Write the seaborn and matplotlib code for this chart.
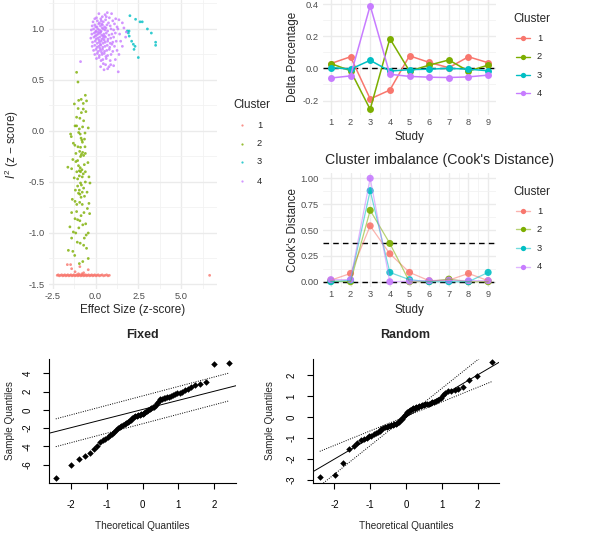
import matplotlib
matplotlib.use("Agg")
import matplotlib.pyplot as plt
from matplotlib.lines import Line2D
import seaborn as sns
import pandas as pd
import numpy as np
from statistics import NormalDist

# ---- data ----
clusters = ["1", "2", "3", "4"]
palette = ["#F8766D", "#7CAE00", "#00BFC4", "#C77CFF"]

# scatter: (effect size z, I^2 z) per cluster
c1_points = [(-2.24, -1.415), (-2.18, -1.41), (-2.12, -1.42), (-2.05, -1.415), (-1.98, -1.41),
             (-1.92, -1.42), (-1.86, -1.415), (-1.80, -1.41), (-1.74, -1.42), (-1.68, -1.415),
             (-1.62, -1.41), (-1.56, -1.42), (-1.50, -1.415), (-1.44, -1.41), (-1.38, -1.42),
             (-1.32, -1.415), (-1.27, -1.41), (-1.21, -1.42), (-1.15, -1.415), (-1.10, -1.41),
             (-1.04, -1.42), (-0.98, -1.415), (-0.93, -1.41), (-0.87, -1.42), (-0.81, -1.415),
             (-0.76, -1.41), (-0.70, -1.42), (-0.64, -1.415), (-0.58, -1.41), (-0.53, -1.42),
             (-0.47, -1.415), (-0.41, -1.41), (-0.35, -1.42), (-0.29, -1.415), (-0.23, -1.41),
             (-0.17, -1.42), (-0.11, -1.415), (-0.05, -1.41), (0.02, -1.42), (0.08, -1.415),
             (0.15, -1.41), (0.22, -1.42), (0.30, -1.415), (0.38, -1.41), (0.46, -1.42),
             (0.55, -1.415), (0.64, -1.41), (0.72, -1.42), (0.80, -1.415), (6.65, -1.415),
             (-1.65, -1.31), (-1.46, -1.31), (-1.40, -1.35), (-0.92, -1.33), (-0.43, -1.36),
             (-1.20, -1.38), (-0.70, -1.39), (-1.00, -1.40), (-0.80, -1.40)]
c2_points = [(-1.11, 0.575), (-1.03, 0.48), (-0.60, 0.35), (-1.24, 0.265), (-0.53, 0.295),
             (-0.99, 0.30), (-0.72, 0.215), (-0.57, 0.19), (-0.83, 0.18), (-1.11, 0.135),
             (-0.92, 0.125), (-1.11, 0.05), (-0.76, 0.04), (-0.43, 0.03), (-1.46, -0.03),
             (-0.99, -0.015), (-1.42, -0.055), (-0.90, -0.03), (-0.85, -0.07), (-0.80, -0.09),
             (-0.65, -0.08), (-0.77, -0.11), (-1.21, -0.14), (-1.03, -0.155), (-0.62, -0.155),
             (-0.93, -0.20), (-0.76, -0.21), (-0.83, -0.23), (-0.70, -0.24), (-0.88, -0.25),
             (-0.60, -0.22), (-1.33, -0.28), (-1.15, -0.30), (-1.05, -0.29), (-0.45, -0.31),
             (-1.62, -0.355), (-1.40, -0.37), (-1.00, -0.34), (-0.90, -0.36), (-0.80, -0.38),
             (-1.10, -0.40), (-0.95, -0.39), (-0.88, -0.40), (-0.72, -0.42), (-0.95, -0.44),
             (-0.78, -0.45), (-1.05, -0.47), (-0.39, -0.45), (-0.33, -0.51), (-0.88, -0.51),
             (-1.05, -0.54), (-0.83, -0.53), (-0.95, -0.58), (-0.78, -0.60), (-0.92, -0.62),
             (-1.36, -0.67), (-1.20, -0.69), (-0.93, -0.70), (-0.78, -0.72), (-0.39, -0.71),
             (-1.40, -0.80), (-1.11, -0.79), (-0.35, -0.81), (-0.48, -0.76), (-1.05, -0.87),
             (-0.92, -0.88), (-1.20, -0.86), (-0.58, -0.91), (-1.50, -0.94), (-1.30, -0.99),
             (-1.16, -1.00), (-0.43, -1.00), (-0.55, -1.02), (-1.40, -1.05), (-1.07, -1.09),
             (-1.59, -1.17), (-1.33, -1.18), (-0.53, -1.15), (-0.43, -1.25), (-0.70, -1.12),
             (-0.95, 0.02), (-0.70, 0.10), (-1.02, 0.22), (-0.88, -0.16), (-1.15, -0.22),
             (-0.66, -0.33), (-1.25, -0.46), (-0.60, -0.50), (-0.70, -0.56), (-1.00, -0.61),
             (-0.85, -0.65), (-0.65, -0.64), (-1.10, -0.72), (-0.68, -0.80), (-0.85, -0.83),
             (-0.75, -0.92), (-0.98, -0.95), (-0.66, -1.05), (-0.90, -1.10), (-1.22, -1.22),
             (-0.75, -1.28), (-0.95, -1.30), (-0.60, -0.40), (-1.18, -0.58), (-0.50, -0.60),
             (-0.72, 0.27), (-0.84, 0.31), (-1.20, 0.05), (-0.62, -0.02), (-1.30, -0.12)]
c3_points = [(2.00, 1.13), (2.33, 1.095), (2.59, 1.07), (2.72, 1.07), (3.02, 1.00),
             (3.25, 0.96), (3.50, 0.87), (3.50, 0.84), (1.85, 0.98), (1.91, 0.96),
             (1.96, 0.93), (2.10, 0.88), (2.20, 0.85), (2.30, 0.83), (2.24, 0.80),
             (2.49, 0.72), (1.95, 0.98)]
c4_points = [(0.19, 1.15), (0.68, 1.16), (0.93, 1.15), (0.55, 1.14),
             (0.05, 1.11), (0.39, 1.12), (0.30, 1.10), (0.80, 1.11), (1.17, 1.10), (0.62, 1.12), (-0.05, 1.10),
             (-0.15, 1.07), (0.10, 1.08), (0.22, 1.06), (0.45, 1.07), (0.58, 1.09), (0.75, 1.06),
             (1.00, 1.08), (1.36, 1.09), (0.33, 1.08), (1.56, 1.06),
             (-0.20, 1.03), (-0.05, 1.04), (0.08, 1.02), (0.18, 1.05), (0.28, 1.03), (0.40, 1.04),
             (0.52, 1.02), (0.66, 1.04), (0.85, 1.03), (1.10, 1.05), (1.25, 1.02), (0.00, 1.02),
             (0.35, 1.05), (1.65, 1.01),
             (-0.25, 0.99), (-0.12, 1.00), (0.02, 0.98), (0.12, 1.00), (0.22, 0.99), (0.32, 0.98),
             (0.45, 1.00), (0.55, 0.99), (0.70, 0.98), (0.90, 1.00), (1.05, 0.99), (1.30, 1.00),
             (1.79, 0.97), (0.15, 0.97), (0.60, 1.01), (0.38, 1.01),
             (-0.22, 0.95), (-0.08, 0.96), (0.05, 0.94), (0.15, 0.95), (0.25, 0.96), (0.35, 0.94),
             (0.48, 0.95), (0.62, 0.96), (0.78, 0.94), (0.95, 0.95), (1.15, 0.96), (1.75, 0.92),
             (0.00, 0.97), (0.30, 0.97), (0.52, 0.93), (1.40, 0.95),
             (-0.28, 0.91), (-0.10, 0.92), (0.03, 0.90), (0.13, 0.91), (0.24, 0.92), (0.36, 0.90),
             (0.46, 0.91), (0.58, 0.92), (0.72, 0.90), (0.88, 0.91), (1.05, 0.92), (1.46, 0.88),
             (0.20, 0.89), (0.42, 0.93), (-0.02, 0.93),
             (-0.18, 0.87), (-0.03, 0.88), (0.10, 0.86), (0.22, 0.87), (0.33, 0.88), (0.44, 0.86),
             (0.56, 0.87), (0.70, 0.88), (0.85, 0.86), (1.00, 0.87), (1.20, 0.88), (0.28, 0.85), (0.50, 0.89),
             (-0.20, 0.83), (-0.05, 0.84), (0.08, 0.82), (0.18, 0.83), (0.30, 0.84), (0.42, 0.82),
             (0.55, 0.83), (0.68, 0.84), (0.82, 0.82), (1.10, 0.83), (1.56, 0.83), (0.25, 0.81), (0.95, 0.85),
             (-0.12, 0.79), (0.02, 0.80), (0.15, 0.78), (0.28, 0.79), (0.40, 0.80), (0.52, 0.78),
             (0.65, 0.79), (0.80, 0.80), (1.00, 0.78), (1.25, 0.79), (0.35, 0.77),
             (-0.05, 0.75), (0.10, 0.76), (0.22, 0.74), (0.38, 0.75), (0.50, 0.76), (0.70, 0.74),
             (0.90, 0.75), (1.36, 0.75), (0.60, 0.73),
             (0.05, 0.71), (0.20, 0.72), (0.42, 0.70), (0.62, 0.71), (0.85, 0.69), (1.15, 0.70), (0.32, 0.69),
             (0.29, 0.63), (0.58, 0.65), (0.78, 0.63), (0.88, 0.65), (0.45, 0.66), (1.05, 0.64), (-0.88, 0.68),
             (0.49, 0.60), (1.32, 0.58), (0.70, 0.61)]

studies = [1, 2, 3, 4, 5, 6, 7, 8, 9]
delta_c1 = [0.030, 0.072, -0.190, -0.135, 0.078, 0.037, 0.004, 0.072, 0.035]
delta_c2 = [0.030, -0.015, -0.255, 0.185, -0.017, 0.020, 0.052, -0.017, 0.020]
delta_c3 = [0.005, -0.005, 0.050, -0.017, -0.008, -0.005, 0.000, -0.005, -0.015]
delta_c4 = [-0.060, -0.047, 0.390, -0.037, -0.050, -0.055, -0.057, -0.053, -0.042]

cook_c1 = [0.015, 0.08, 0.54, 0.27, 0.09, 0.01, 0.015, 0.08, 0.01]
cook_c2 = [0.005, 0.0, 0.69, 0.37, 0.0, 0.002, 0.025, 0.0, 0.0]
cook_c3 = [0.0, 0.015, 0.88, 0.09, 0.02, 0.0, 0.0, 0.0, 0.09]
cook_c4 = [0.02, 0.02, 1.00, 0.0, 0.005, 0.01, 0.015, 0.01, 0.01]
cook_cutoff = 0.375

# sorted residuals for the two QQ plots
fixed_sample = [-7.4, -6.07, -5.4, -5.0, -4.7, -4.3, -3.95, -3.55, -3.35, -3.15,
                -2.95, -2.75, -2.6, -2.45, -2.15, -1.95, -1.85, -1.75, -1.62, -1.55,
                -1.4, -1.3, -1.2, -1.1, -0.9, -0.75, -0.68, -0.62, -0.58, -0.55,
                -0.5, -0.4, -0.3, -0.22, -0.15, -0.05, 0.08, 0.2, 0.28, 0.36,
                0.5, 0.7, 0.95, 1.15, 1.22, 1.27, 1.32, 1.35, 1.42, 1.5,
                1.62, 1.72, 1.8, 1.86, 1.95, 2.15, 2.3, 2.5, 2.72, 2.88,
                3.0, 5.0, 5.16]
random_sample = [-2.87, -2.75, -2.19, -1.52, -1.37, -1.24, -1.11, -1.05, -0.98, -0.92,
                 -0.88, -0.82, -0.78, -0.72, -0.65, -0.58, -0.53, -0.49, -0.46, -0.44,
                 -0.42, -0.40, -0.38, -0.35, -0.32, -0.27, -0.22, -0.16, -0.09, -0.02,
                 0.08, 0.15, 0.24, 0.29, 0.33, 0.37, 0.41, 0.44, 0.46, 0.48,
                 0.51, 0.53, 0.55, 0.58, 0.60, 0.62, 0.64, 0.67, 0.70, 0.73,
                 0.78, 0.83, 0.90, 1.05, 1.15, 1.22, 1.26, 1.28, 1.31, 1.41,
                 1.75, 1.94, 2.60]
# (intercept, slope) of reference line and dotted bands
fixed_line = (0.04, 1.0)
fixed_bands = [(1.52, 1.04), (-1.52, 1.04)]
random_line = (0.0, 1.0)
random_bands = [(0.03, 0.69), (0.0, 1.36)]

# ---- setup ----
W, H = 605, 537
sns.set_theme(style="white")
plt.rcParams["font.family"] = ["Liberation Sans", "DejaVu Sans"]
plt.rcParams["axes.unicode_minus"] = False
plt.rcParams["mathtext.fontset"] = "custom"
plt.rcParams["mathtext.rm"] = "Liberation Sans"
plt.rcParams["mathtext.it"] = "Liberation Sans:italic"

TICK = 6.7
TITLE = 8.4
GREY = "#4D4D4D"

fig = plt.figure(figsize=(W / 100, H / 100), dpi=100)
fig.patch.set_facecolor("white")


def px_axes(x0, y0, x1, y1):
    return fig.add_axes([x0 / W, 1 - y1 / H, (x1 - x0) / W, (y1 - y0) / H])


def ftext(x, y, s, **kw):
    fig.text(x / W, 1 - y / H, s, **kw)


def gg_minimal(ax, xmaj, xmin, ymaj, ymin, xlab, ylab):
    for s in ax.spines.values():
        s.set_visible(False)
    ax.set_xticks(xmaj)
    ax.set_xticklabels(xlab)
    ax.set_xticks(xmin, minor=True)
    ax.set_yticks(ymaj)
    ax.set_yticklabels(ylab)
    ax.set_yticks(ymin, minor=True)
    ax.grid(which="major", color="#EBEBEB", lw=1.0)
    ax.grid(which="minor", color="#F2F2F2", lw=0.6)
    ax.set_axisbelow(True)
    ax.tick_params(which="both", length=0, labelsize=TICK, labelcolor=GREY)
    ax.tick_params(axis="x", pad=2.5)
    ax.tick_params(axis="y", pad=3)
    ax.set_xlabel("")
    ax.set_ylabel("")


def gg_legend(x, y_title, ys, lines, alpha=1.0):
    ftext(x, y_title, "Cluster", fontsize=TITLE, va="center", ha="left")
    for col, lab, yy in zip(palette, clusters, ys):
        yf = 1 - yy / H
        if lines:
            fig.add_artist(Line2D([(x + 3) / W, (x + 17) / W], [yf, yf], color=col, lw=1.0,
                                  alpha=alpha, transform=fig.transFigure))
            fig.add_artist(Line2D([(x + 10) / W], [yf], color=col, marker="o", ms=3.8,
                                  mec="none", transform=fig.transFigure))
            ftext(x + 24, yy, lab, fontsize=TICK, va="center", ha="left")
        else:
            fig.add_artist(Line2D([(x + 9) / W], [yf], color=col, marker="o", ms=1.6,
                                  mec="none", alpha=0.8, transform=fig.transFigure))
            ftext(x + 24, yy, lab, fontsize=TICK, va="center", ha="left")


# ---- scatter of effect size vs I^2 ----
rows = []
for lab, pts in zip(clusters, [c1_points, c2_points, c3_points, c4_points]):
    for ex, iy in pts:
        rows.append({"effect": ex, "i2": iy, "cluster": lab})
scat = pd.DataFrame(rows)

ax1 = px_axes(49, 0, 217, 289)
sns.scatterplot(data=scat, x="effect", y="i2", hue="cluster", palette=palette,
                hue_order=clusters, s=4, alpha=0.8, linewidth=0, legend=False, ax=ax1)
ax1.set_xlim(-2.72, 7.08)
ax1.set_ylim(-1.549, 1.284)
gg_minimal(ax1, [-2.5, 0, 2.5, 5.0], [-1.25, 1.25, 3.75, 6.25],
           [-1.5, -1.0, -0.5, 0.0, 0.5, 1.0], [-1.25, -0.75, -0.25, 0.25, 0.75, 1.25],
           ["-2.5", "0.0", "2.5", "5.0"], ["-1.5", "-1.0", "-0.5", "0.0", "0.5", "1.0"])
ftext(133, 310, "Effect Size (z-score)", fontsize=TITLE, ha="center", va="center")
ftext(12, 145, "$I^2$ (z − score)", fontsize=TITLE, ha="center", va="center", rotation=90)
gg_legend(233, 105, [125, 143.5, 162, 181], lines=False)

# ---- delta percentage ----
delta = pd.DataFrame({
    "study": studies * 4,
    "value": delta_c1 + delta_c2 + delta_c3 + delta_c4,
    "cluster": [c for c in clusters for _ in studies],
})
ax2 = px_axes(323, 0, 496, 115)
ax2.axhline(0, color="black", lw=1.0, ls=(0, (4, 3)), zorder=1)
sns.lineplot(data=delta, x="study", y="value", hue="cluster", palette=palette, hue_order=clusters,
             marker="o", markersize=5, markeredgecolor="none", linewidth=1.1, legend=False, ax=ax2)
ax2.set_xlim(0.6, 9.4)
ax2.set_ylim(-0.29, 0.425)
gg_minimal(ax2, studies, [1.5, 2.5, 3.5, 4.5, 5.5, 6.5, 7.5, 8.5],
           [-0.2, 0.0, 0.2, 0.4], [-0.1, 0.1, 0.3],
           [str(s) for s in studies], ["-0.2", "0.0", "0.2", "0.4"])
ftext(409, 137, "Study", fontsize=TITLE, ha="center", va="center")
ftext(293, 57, "Delta Percentage", fontsize=TITLE, ha="center", va="center", rotation=90)
gg_legend(513, 18.5, [38.3, 56.7, 75, 93.3], lines=True)

# ---- cook's distance ----
cook = pd.DataFrame({
    "study": studies * 4,
    "value": cook_c1 + cook_c2 + cook_c3 + cook_c4,
    "cluster": [c for c in clusters for _ in studies],
})
ax3 = px_axes(323, 173, 496, 287)
ax3.axhline(cook_cutoff, color="black", lw=1.0, ls=(0, (4, 3)), zorder=1)
ax3.axhline(0, color="black", lw=1.0, ls=(0, (4, 3)), zorder=1)
sns.lineplot(data=cook, x="study", y="value", hue="cluster", palette=palette, hue_order=clusters,
             linewidth=0.9, alpha=0.55, legend=False, ax=ax3)
sns.scatterplot(data=cook, x="study", y="value", hue="cluster", palette=palette, hue_order=clusters,
                s=26, linewidth=0, alpha=0.9, legend=False, ax=ax3)
ax3.set_xlim(0.6, 9.4)
ax3.set_ylim(-0.051, 1.051)
gg_minimal(ax3, studies, [1.5, 2.5, 3.5, 4.5, 5.5, 6.5, 7.5, 8.5],
           [0, 0.25, 0.5, 0.75, 1.0], [0.125, 0.375, 0.625, 0.875],
           [str(s) for s in studies], ["0.00", "0.25", "0.50", "0.75", "1.00"])
ftext(409, 309.5, "Study", fontsize=TITLE, ha="center", va="center")
ftext(293, 230, "Cook's Distance", fontsize=TITLE, ha="center", va="center", rotation=90)
ftext(325, 160, "Cluster imbalance (Cook's Distance)", fontsize=10.2, ha="left", va="center")
gg_legend(513, 191.7, [211, 229.3, 248.3, 266.7], lines=True, alpha=0.55)

# ---- base-R style QQ plots ----
n = len(fixed_sample)
theo = [NormalDist().inv_cdf((i - 0.5) / n) for i in range(1, n + 1)]


def qq_panel(box, sample, title, ylim, yticks, line, bands, ylab_x, title_x):
    ax = px_axes(*box)
    sns.scatterplot(x=theo, y=sample, color="black", marker="D", s=11, linewidth=0, ax=ax)
    ax.axline((0, line[0]), slope=line[1], color="black", lw=0.7)
    xs = np.array([min(theo), max(theo)])
    for b0, b1 in bands:
        ax.plot(xs, b0 + b1 * xs, color="black", lw=0.7, ls=(0, (1, 1.4)))
    ax.set_xlim(-2.6, 2.6)
    ax.set_ylim(*ylim)
    ax.set_facecolor("white")
    ax.grid(False)
    for side in ["top", "right"]:
        ax.spines[side].set_visible(False)
    for side in ["left", "bottom"]:
        ax.spines[side].set_visible(True)
        ax.spines[side].set_color("black")
        ax.spines[side].set_linewidth(0.8)
    ax.set_xticks([-2, -1, 0, 1, 2])
    ax.set_xticklabels(["-2", "-1", "0", "1", "2"])
    ax.set_yticks(yticks)
    ax.set_yticklabels([str(t) for t in yticks], rotation=90, va="center")
    ax.tick_params(which="both", direction="out", length=4, width=0.8, color="black",
                   labelsize=7, labelcolor="black", left=True, bottom=True)
    ax.tick_params(axis="x", pad=8)
    ax.tick_params(axis="y", pad=8)
    ax.set_xlabel("")
    ax.set_ylabel("")
    mid = (box[0] + box[2]) / 2
    ftext(title_x if title_x else mid, 335, title, fontsize=9, fontweight="bold", ha="center", va="center")
    ftext(mid, 526, "Theoretical Quantiles", fontsize=7.2, ha="center", va="center")
    ftext(ylab_x, (box[1] + box[3]) / 2, "Sample Quantiles", fontsize=7.2, ha="center",
          va="center", rotation=90)


qq_panel((49, 359, 236, 483), fixed_sample, "Fixed", (-8.0, 5.56), [-6, -4, -2, 0, 2, 4],
         fixed_line, fixed_bands, 10, 142)
qq_panel((313, 359, 499, 483), random_sample, "Random", (-3.14, 2.76), [-3, -2, -1, 0, 1, 2],
         random_line, random_bands, 270, 405)

fig.savefig("out.png", dpi=100, facecolor="white")
